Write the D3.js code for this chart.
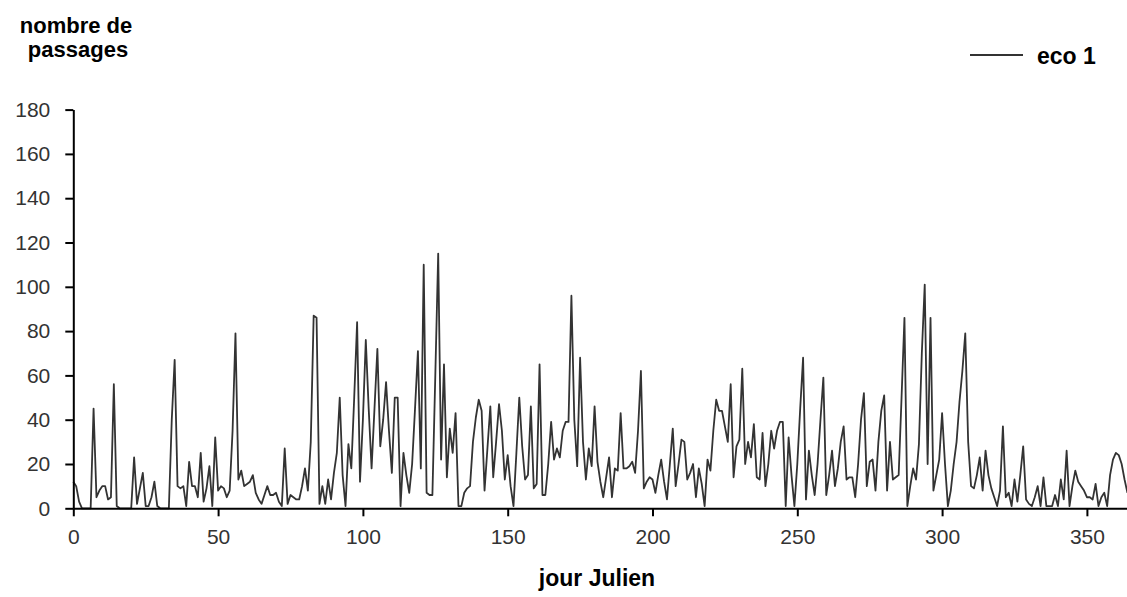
<!DOCTYPE html>
<html>
<head>
<meta charset="utf-8">
<script src="https://cdn.jsdelivr.net/npm/d3@7"></script>
<style>
  body { margin: 0; background: #fff; }
  svg { display: block; font-family: "Liberation Sans", Arial, sans-serif; }
</style>
</head>
<body>
<svg id="chart" width="1127" height="597"></svg>
<script>
// daily counts (jour Julien 0 -> 364), one array per quarter
var passagesQ1 = [12, 10, 3, 0, 0, 0, 0, 45, 5, 8, 10, 10, 4, 5, 56, 1, 0, 0, 0, 0,
  0, 23, 2, 9, 16, 1, 1, 5, 12, 1, 0, 0, 0, 0, 40, 67, 10, 9, 10, 1,
  21, 10, 10, 5, 25, 3, 9, 19, 1, 32, 8, 10, 9, 5, 8, 35, 79, 13, 17, 10,
  11, 12, 15, 7, 4, 2, 6, 10, 6, 6, 7, 3, 1, 27, 2, 6, 5, 4, 4, 10,
  18, 8, 30, 87, 86, 2, 10, 2, 13, 4, 16];
var passagesQ2 = [25, 50, 15, 1, 29, 18, 50, 84, 12, 40, 76, 45, 18, 45, 72, 28, 40, 57, 35,
  16, 50, 50, 1, 25, 15, 7, 20, 45, 71, 18, 110, 7, 6, 6, 60, 115, 22, 65, 14,
  36, 25, 43, 1, 1, 7, 9, 10, 30, 41, 49, 44, 8, 27, 46, 14, 30, 47, 35, 13,
  24, 10, 1, 25, 50, 28, 13, 15, 46, 9, 11, 65, 6, 6, 20, 39, 22, 27, 23, 35,
  39, 39, 96, 40, 19, 68, 30, 13, 27, 19, 46];
var passagesQ3 = [21, 12, 5, 14, 23, 5, 18, 17, 43, 18, 18, 19, 21, 16, 35, 62, 9, 12, 14,
  13, 7, 15, 22, 12, 4, 20, 36, 10, 20, 31, 30, 13, 16, 20, 5, 18, 11, 1, 22,
  17, 35, 49, 44, 44, 37, 30, 56, 14, 28, 31, 63, 20, 30, 23, 38, 14, 13, 34, 10,
  20, 35, 27, 35, 39, 39, 1, 32, 15, 1, 20, 45, 68, 4, 26, 15, 6, 20, 40, 59,
  6, 15, 26, 10, 18, 30, 37, 13, 14, 14, 5, 20, 40];
var passagesQ4 = [52, 10, 21, 22, 8, 30, 44, 51, 8, 30, 13, 14, 15, 50, 86, 1, 10, 18, 13,
  29, 70, 101, 20, 86, 8, 15, 22, 43, 20, 1, 8, 20, 30, 48, 62, 79, 30, 10, 9,
  15, 23, 8, 26, 15, 9, 5, 1, 8, 37, 5, 7, 1, 13, 3, 15, 28, 4, 2, 1,
  5, 10, 1, 14, 1, 1, 1, 6, 1, 13, 4, 26, 1, 10, 17, 12, 10, 8, 5, 5,
  4, 11, 1, 5, 7, 1, 15, 22, 25, 24, 20, 13, 7];

var xTicks = [0, 50, 100, 150, 200, 250, 300, 350];
var yTicks = [0, 20, 40, 60, 80, 100, 120, 140, 160, 180];
var seriesName = "eco 1";

var passages = passagesQ1.concat(passagesQ2, passagesQ3, passagesQ4);

var svg = d3.select("#chart");

var x = d3.scaleLinear()
  .domain([0, 365])
  .range([73.3, 73.3 + 365 * 2.896]);

var y = d3.scaleLinear()
  .domain([0, 180])
  .range([508.3, 109.6]);

var line = d3.line()
  .x(function(d, i) { return x(i); })
  .y(function(d) { return y(d); });

svg.append("path")
  .datum(passages)
  .attr("fill", "none")
  .attr("stroke", "#333")
  .attr("stroke-width", 1.8)
  .attr("stroke-linejoin", "round")
  .attr("d", line);

// axes
var yAxis = svg.append("g")
  .attr("transform", "translate(" + x(0) + ",0)")
  .call(d3.axisLeft(y).tickValues(yTicks).tickSize(8).tickSizeOuter(0).tickPadding(15));

var xAxis = svg.append("g")
  .attr("transform", "translate(0," + y(0) + ")")
  .call(d3.axisBottom(x).tickValues(xTicks).tickSize(8).tickSizeOuter(0).tickPadding(13));

[yAxis, xAxis].forEach(function(g) {
  g.select(".domain").attr("stroke", "#000").attr("stroke-width", 2);
  g.selectAll(".tick line").attr("stroke", "#000").attr("stroke-width", 2);
  g.selectAll(".tick text")
    .attr("fill", "#333")
    .style("font-size", "21px")
    .style("font-family", "'Liberation Sans', Arial, sans-serif");
});

// titles
svg.append("text")
  .attr("x", 76).attr("y", 33)
  .attr("text-anchor", "middle")
  .style("font-size", "22px").style("font-weight", "bold")
  .text("nombre de");

svg.append("text")
  .attr("x", 78).attr("y", 57)
  .attr("text-anchor", "middle")
  .style("font-size", "22px").style("font-weight", "bold")
  .text("passages");

svg.append("text")
  .attr("x", 597).attr("y", 586)
  .attr("text-anchor", "middle")
  .style("font-size", "23px").style("font-weight", "bold")
  .text("jour Julien");

// legend
svg.append("line")
  .attr("x1", 970).attr("x2", 1023)
  .attr("y1", 55).attr("y2", 55)
  .attr("stroke", "#333").attr("stroke-width", 1.8);

svg.append("text")
  .attr("x", 1037).attr("y", 64)
  .style("font-size", "23px").style("font-weight", "bold")
  .text(seriesName);
</script>
</body>
</html>
